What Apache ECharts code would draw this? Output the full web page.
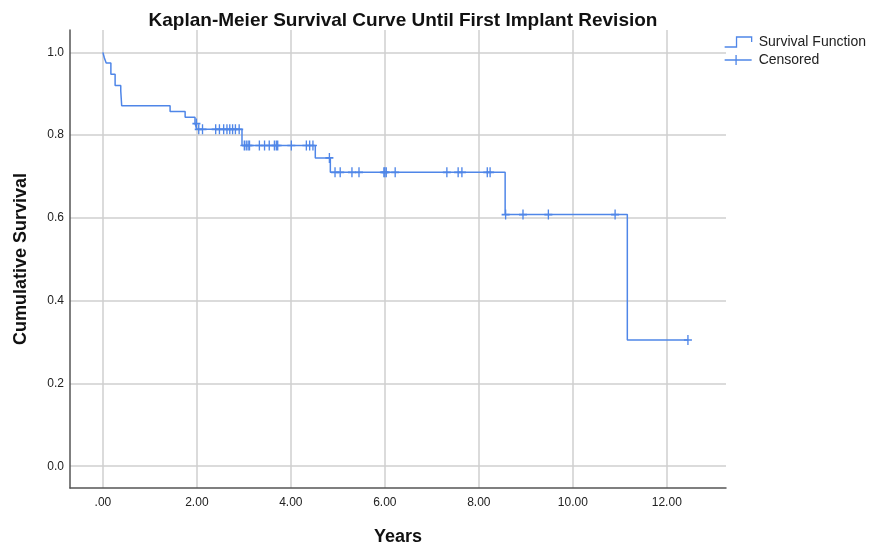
<!DOCTYPE html>
<html>
<head>
<meta charset="utf-8">
<script src="https://cdn.jsdelivr.net/npm/echarts@6/dist/echarts.min.js"></script>
<style>html,body{margin:0;padding:0;background:#fff;}#c{width:870px;height:551px;}</style>
</head>
<body>
<div id="c"></div>
<script>
// Survival step function (time in years, cumulative survival)
const survTimes = [0, 0.03, 0.07, 0.17, 0.26, 0.38, 0.40, 1.43, 1.75, 1.96, 2.00, 2.96, 4.52, 4.84, 8.56, 11.16, 12.45];
const survProb  = [1.000, 0.987, 0.974, 0.947, 0.920, 0.907, 0.871, 0.857, 0.843, 0.828, 0.814, 0.775, 0.745, 0.710, 0.608, 0.305, 0.305];

// Censored observations
const censTimes = [1.99,
  2.04, 2.12, 2.40, 2.48, 2.57, 2.64, 2.70, 2.76, 2.82, 2.90,
  3.01, 3.05, 3.09, 3.12, 3.33, 3.44, 3.54, 3.65, 3.69, 3.72, 4.01, 4.33, 4.40, 4.47,
  4.82,
  4.94, 5.05, 5.30, 5.45, 5.98, 6.00, 6.03, 6.22, 7.32, 7.56, 7.64, 8.18, 8.24,
  8.57, 8.94, 9.48, 10.90,
  12.45];
const censProb = [0.828,
  0.814, 0.814, 0.814, 0.814, 0.814, 0.814, 0.814, 0.814, 0.814, 0.814,
  0.775, 0.775, 0.775, 0.775, 0.775, 0.775, 0.775, 0.775, 0.775, 0.775, 0.775, 0.775, 0.775, 0.775,
  0.745,
  0.710, 0.710, 0.710, 0.710, 0.710, 0.710, 0.710, 0.710, 0.710, 0.710, 0.710, 0.710, 0.710,
  0.608, 0.608, 0.608, 0.608,
  0.305];

// Axis ticks
const xTicks = [0, 2, 4, 6, 8, 10, 12];
const xTickLabels = ['.00', '2.00', '4.00', '6.00', '8.00', '10.00', '12.00'];
const yTicks = [0, 0.2, 0.4, 0.6, 0.8, 1.0];
const yTickLabels = ['0.0', '0.2', '0.4', '0.6', '0.8', '1.0'];

const seriesNames = ['Survival Function', 'Censored'];

const lineColor = '#4f86e8';
const font = "'Liberation Sans', Arial, sans-serif";

const survData = survTimes.map((t, i) => [t, survProb[i]]);
const censData = censTimes.map((t, i) => [t, censProb[i]]);

const chart = echarts.init(document.getElementById('c'), null, {renderer: 'canvas'});
chart.setOption({
  animation: false,
  backgroundColor: '#ffffff',
  title: {
    text: 'Kaplan-Meier Survival Curve Until First Implant Revision',
    left: 398, top: 6, textAlign: 'center',
    textStyle: {fontFamily: font, fontSize: 19, fontWeight: 'bold', color: '#111'}
  },
  legend: {
    orient: 'vertical',
    left: 724, top: 35,
    itemWidth: 27, itemHeight: 10, itemGap: 4,
    padding: 0,
    symbolKeepAspect: false,
    textStyle: {fontFamily: font, fontSize: 14, color: '#222', padding: [0, 0, 0, 2]},
    data: [
      {name: seriesNames[0], icon: 'path://M0,9 L11,9 L11,1 L25,1 L25,5',
       itemStyle: {color: 'rgba(0,0,0,0)', borderColor: lineColor, borderWidth: 1.3}},
      {name: seriesNames[1], icon: 'path://M0,5 L26,5 M11,0 L11,10',
       itemStyle: {color: 'rgba(0,0,0,0)', borderColor: lineColor, borderWidth: 1.3}}
    ]
  },
  grid: {left: 70, top: 30, right: 144, bottom: 58, containLabel: false},
  xAxis: {
    type: 'value',
    min: -0.7, max: 13.26,
    name: 'Years', nameLocation: 'middle', nameGap: 40,
    nameTextStyle: {fontFamily: font, fontSize: 18, fontWeight: 'bold', color: '#111'},
    axisLine: {show: true, onZero: false, lineStyle: {color: '#555', width: 1.5}},
    axisTick: {show: false, customValues: xTicks},
    axisLabel: {
      customValues: xTicks, margin: 9,
      fontFamily: font, fontSize: 12, color: '#222',
      formatter: v => xTickLabels[xTicks.indexOf(v)] ?? ''
    },
    splitLine: {show: true, lineStyle: {color: '#cfcfcf', width: 1.5}}
  },
  yAxis: {
    type: 'value',
    min: -0.0526, max: 1.054,
    name: 'Cumulative Survival', nameLocation: 'middle', nameGap: 40,
    nameTextStyle: {fontFamily: font, fontSize: 18, fontWeight: 'bold', color: '#111'},
    axisLine: {show: true, onZero: false, lineStyle: {color: '#555', width: 1.5}},
    axisTick: {show: false, customValues: yTicks},
    axisLabel: {
      customValues: yTicks, margin: 6,
      fontFamily: font, fontSize: 12, color: '#222',
      formatter: v => {
        const i = yTicks.findIndex(t => Math.abs(t - v) < 1e-6);
        return i >= 0 ? yTickLabels[i] : '';
      }
    },
    splitLine: {show: true, lineStyle: {color: '#cfcfcf', width: 1.5}}
  },
  series: [
    {
      name: seriesNames[0],
      type: 'line',
      step: 'end',
      data: survData,
      showSymbol: false,
      symbol: 'none',
      lineStyle: {color: lineColor, width: 1.5},
      itemStyle: {color: lineColor},
      z: 3
    },
    {
      name: seriesNames[1],
      type: 'scatter',
      data: censData,
      symbol: 'path://M5,0 L5,10 M1,5 L9,5',
      symbolSize: [8, 10],
      itemStyle: {color: 'rgba(0,0,0,0)', borderColor: lineColor, borderWidth: 1.5, opacity: 1},
      z: 4
    }
  ]
});
</script>
</body>
</html>
